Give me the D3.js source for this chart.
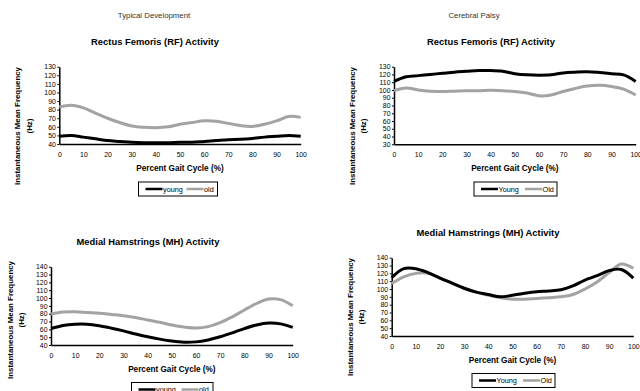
<!DOCTYPE html>
<html>
<head>
<meta charset="utf-8">
<script src="https://cdn.jsdelivr.net/npm/d3@7"></script>
<style>
  body { margin: 0; background: #fff; }
  svg { display: block; font-family: "Liberation Sans", Arial, sans-serif; }
</style>
</head>
<body>
<svg id="chart" width="640" height="391"></svg>
<script>
// percent of gait cycle, shared by all four curves
const pct = [0, 5, 10, 15, 20, 25, 30, 35, 40, 45, 50, 55, 60, 65, 70, 75, 80, 85, 90, 95, 100];

// Typical development, rectus femoris
const tdRfYoung = [49, 50, 48, 46, 44, 43, 42, 41.5, 41.5, 41.5, 42, 42, 43, 44, 45, 45.5, 46.5, 48, 49, 50, 49];
const tdRfOld = [83, 85, 82, 76, 70, 65, 61, 59.5, 59, 60, 63, 65, 67, 66.5, 64, 61.5, 60.5, 63, 67, 72, 71];

// Cerebral palsy, rectus femoris
const cpRfYoung = [111, 117, 118.5, 120, 121.5, 123, 124, 125, 125, 124, 121, 119.5, 119, 119.5, 122, 123, 123.5, 122.5, 121, 119.5, 111];
const cpRfOld = [99, 102.5, 100, 98.5, 98, 98.5, 99, 99, 99.5, 99, 98, 96, 92.5, 93.5, 98, 102, 105, 106, 104.5, 101, 93.5];

// Typical development, medial hamstrings
const tdMhYoung = [61, 65, 66.5, 66.5, 64.5, 61.5, 58, 54, 50.5, 47.5, 45, 43.5, 44, 46.5, 50.5, 55.5, 61, 65.5, 68, 67, 62.5];
const tdMhOld = [79.5, 82, 82.5, 81.5, 80.5, 79, 77.5, 75, 72, 69, 65.5, 63, 61.7, 63.5, 68.5, 76, 84.7, 93, 98.7, 98, 90];

// Cerebral palsy, medial hamstrings
const cpMhYoung = [114.5, 126, 126, 121, 114, 107.5, 101, 96, 93, 90, 92, 94.5, 96.5, 97.5, 99, 104, 111.5, 117, 123.5, 125, 114];
const cpMhOld = [107, 115.5, 120, 120, 114, 107.5, 101, 96, 92, 89, 87, 87, 88, 89, 90, 93, 100, 109, 121, 132, 126.5];

const xTicks = [0, 10, 20, 30, 40, 50, 60, 70, 80, 90, 100];
const headers = ["Typical Development", "Cerebral Palsy"];
const titleRF = "Rectus Femoris (RF) Activity";
const titleMH = "Medial Hamstrings (MH) Activity";
const xTitle = "Percent Gait Cycle (%)";
const yTitle = ["Instantaneous Mean Frequency", "(Hz)"];

const svg = d3.select("#chart");

// column headers
svg.append("text").attr("x", 154).attr("y", 18).attr("text-anchor", "middle")
  .style("font-size", "7.8px").attr("fill", "#333").text(headers[0]);
svg.append("text").attr("x", 474).attr("y", 18).attr("text-anchor", "middle")
  .style("font-size", "7.8px").attr("fill", "#333").text(headers[1]);

function drawPanel(p) {
  const x = d3.scaleLinear().domain([0, 100]).range([p.left, p.right]);
  const y = d3.scaleLinear().domain(p.yDomain).range([p.bottom, p.top]);
  const g = svg.append("g");

  g.append("text")
    .attr("x", p.titleX).attr("y", p.titleY)
    .attr("text-anchor", "middle")
    .style("font-size", "9.4px").style("font-weight", "bold")
    .text(p.title);

  // y axis
  const yTicks = d3.range(p.yDomain[0], p.yDomain[1] + 1, 10);
  g.append("g")
    .attr("transform", "translate(" + p.left + ",0)")
    .call(d3.axisLeft(y).tickValues(yTicks).tickSize(2).tickSizeOuter(0).tickPadding(1.5))
    .call(a => a.select(".domain").attr("stroke-width", 1.5))
    .call(a => a.selectAll("text").style("font-size", "6.9px").attr("font-family", "Liberation Sans, Arial, sans-serif"));

  // x axis
  g.append("g")
    .attr("transform", "translate(0," + p.bottom + ")")
    .call(d3.axisBottom(x).tickValues(xTicks).tickSize(0).tickSizeOuter(0).tickPadding(8))
    .call(a => a.select(".domain").attr("stroke-width", 1.5))
    .call(a => a.selectAll("text").style("font-size", "6.9px").attr("font-family", "Liberation Sans, Arial, sans-serif"));

  g.append("text")
    .attr("x", (p.left + p.right) / 2).attr("y", p.bottom + 27)
    .attr("text-anchor", "middle")
    .style("font-size", "8.2px").style("font-weight", "bold")
    .text(xTitle);

  yTitle.forEach((t, i) => {
    g.append("text")
      .attr("transform", "translate(" + (p.yTitleX[i] + 3) + "," + p.yTitleY + ") rotate(-90)")
      .attr("text-anchor", "middle")
      .style("font-size", "7.9px").style("font-weight", "bold")
      .text(t);
  });

  const line = d3.line()
    .x((d, i) => x(pct[i]))
    .y(d => y(d))
    .curve(d3.curveCatmullRom.alpha(0.5));

  g.append("path").attr("d", line(p.old))
    .attr("fill", "none").attr("stroke", "#a3a3a3").attr("stroke-width", 3);
  g.append("path").attr("d", line(p.young))
    .attr("fill", "none").attr("stroke", "#000").attr("stroke-width", 3);

  // legend
  const lg = g.append("g").attr("transform", "translate(" + p.legX + "," + p.legY + ")");
  lg.append("rect").attr("width", p.legW).attr("height", 14)
    .attr("fill", "#fff").attr("stroke", "#000").attr("stroke-width", 1);
  lg.append("line").attr("x1", 7).attr("x2", 24).attr("y1", 7).attr("y2", 7)
    .attr("stroke", "#000").attr("stroke-width", 2.5);
  lg.append("text").attr("x", 24.5).attr("y", 9.7)
    .style("font-size", "7.3px").text(p.names[0]);
  lg.append("line").attr("x1", p.oldX).attr("x2", p.oldX + 17).attr("y1", 7).attr("y2", 7)
    .attr("stroke", "#a3a3a3").attr("stroke-width", 2.5);
  lg.append("text").attr("x", p.oldX + 17.5).attr("y", 9.7)
    .style("font-size", "7.3px").text(p.names[1]);
}

drawPanel({
  title: titleRF, titleX: 155, titleY: 45,
  left: 59.3, right: 300.7, top: 66.7, bottom: 144, yDomain: [40, 130],
  yTitleX: [17, 29], yTitleY: 126,
  young: tdRfYoung, old: tdRfOld, names: ["young", "old"],
  legX: 138.5, legY: 182, legW: 79, oldX: 48
});

drawPanel({
  title: titleRF, titleX: 491, titleY: 45,
  left: 394, right: 635.7, top: 66.7, bottom: 144.3, yDomain: [30, 130],
  yTitleX: [352, 363], yTitleY: 126,
  young: cpRfYoung, old: cpRfOld, names: ["Young", "Old"],
  legX: 474, legY: 182, legW: 83, oldX: 51
});

drawPanel({
  title: titleMH, titleX: 148, titleY: 245,
  left: 51, right: 292.7, top: 266.7, bottom: 345, yDomain: [40, 140],
  yTitleX: [10, 21], yTitleY: 320,
  young: tdMhYoung, old: tdMhOld, names: ["young", "old"],
  legX: 131.5, legY: 382.5, legW: 81.5, oldX: 50
});

drawPanel({
  title: titleMH, titleX: 488, titleY: 236,
  left: 391.7, right: 633.3, top: 257.7, bottom: 336, yDomain: [40, 140],
  yTitleX: [350, 361], yTitleY: 317,
  young: cpMhYoung, old: cpMhOld, names: ["Young", "Old"],
  legX: 472, legY: 373.5, legW: 83, oldX: 51
});
</script>
</body>
</html>
